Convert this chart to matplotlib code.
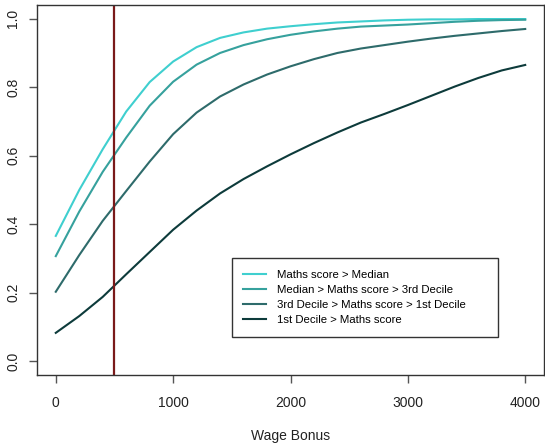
import matplotlib
matplotlib.use("Agg")
import matplotlib.pyplot as plt

# Wage bonus grid and the probability curves for each maths-score group
bonus = [0, 200, 400, 600, 800, 1000, 1200, 1400, 1600, 1800, 2000,
         2200, 2400, 2600, 2800, 3000, 3200, 3400, 3600, 3800, 4000]

above_median = [0.366, 0.500, 0.619, 0.729, 0.815, 0.875, 0.917, 0.944, 0.960, 0.971, 0.978,
                0.984, 0.989, 0.992, 0.995, 0.997, 0.998, 0.998, 0.999, 0.999, 0.999]
median_to_d3 = [0.307, 0.437, 0.553, 0.653, 0.746, 0.816, 0.866, 0.900, 0.923, 0.940, 0.953,
                0.963, 0.971, 0.977, 0.980, 0.983, 0.987, 0.991, 0.994, 0.996, 0.997]
d3_to_d1 = [0.203, 0.310, 0.410, 0.497, 0.583, 0.663, 0.726, 0.773, 0.808, 0.837, 0.861,
            0.882, 0.900, 0.913, 0.923, 0.933, 0.942, 0.950, 0.957, 0.964, 0.970]
below_d1 = [0.083, 0.132, 0.188, 0.254, 0.319, 0.384, 0.440, 0.490, 0.532, 0.569, 0.604,
            0.637, 0.668, 0.697, 0.722, 0.748, 0.775, 0.802, 0.827, 0.849, 0.865]

series_labels = ["Maths score > Median",
                 "Median > Maths score > 3rd Decile",
                 "3rd Decile > Maths score > 1st Decile",
                 "1st Decile > Maths score"]
series_colors = ["#3FCFCF", "#36A19D", "#2E6B6B", "#0D3B3B"]

marker_bonus = 500
x_ticks = [0, 1000, 2000, 3000, 4000]
y_ticks = [0.0, 0.2, 0.4, 0.6, 0.8, 1.0]

plt.rcParams["font.family"] = ["Liberation Sans", "DejaVu Sans"]

fig = plt.figure(figsize=(5.45, 4.46), dpi=100)
ax = fig.add_axes([37 / 545, 1 - 375 / 446, (544 - 37) / 545, (375 - 5) / 446])

for vals, lab, col in zip([above_median, median_to_d3, d3_to_d1, below_d1],
                          series_labels, series_colors):
    ax.plot(bonus, vals, color=col, lw=1.5, label=lab)

ax.axvline(marker_bonus, color="#7A1A1A", lw=1.6)

ax.set_xlim(-160, 4160)
ax.set_ylim(-0.04, 1.04)
ax.set_xticks(x_ticks)
ax.set_xticklabels([str(v) for v in x_ticks])
ax.set_yticks(y_ticks)
ax.set_yticklabels([f"{v:.1f}" for v in y_ticks], rotation=90, va="center")

for s in ax.spines.values():
    s.set_color("#333333")
    s.set_linewidth(1.0)
ax.tick_params(axis="both", direction="out", length=6, width=1.0, color="#555555",
               labelsize=10, labelcolor="#222222")
ax.tick_params(axis="x", pad=9)
ax.tick_params(axis="y", pad=6)

ax.set_xlabel("Wage Bonus", fontsize=10, color="#222222", labelpad=14)

leg = ax.legend(loc="upper left", bbox_to_anchor=(0.384, 0.108, 0.526, 0.207),
                mode="expand", fontsize=8.2, frameon=True, fancybox=False,
                framealpha=1, edgecolor="#333333", borderaxespad=0,
                handlelength=2.0, handletextpad=1.0, labelspacing=0.45,
                borderpad=1.0)
leg.get_frame().set_linewidth(1.0)

fig.savefig("out.png", dpi=100)
